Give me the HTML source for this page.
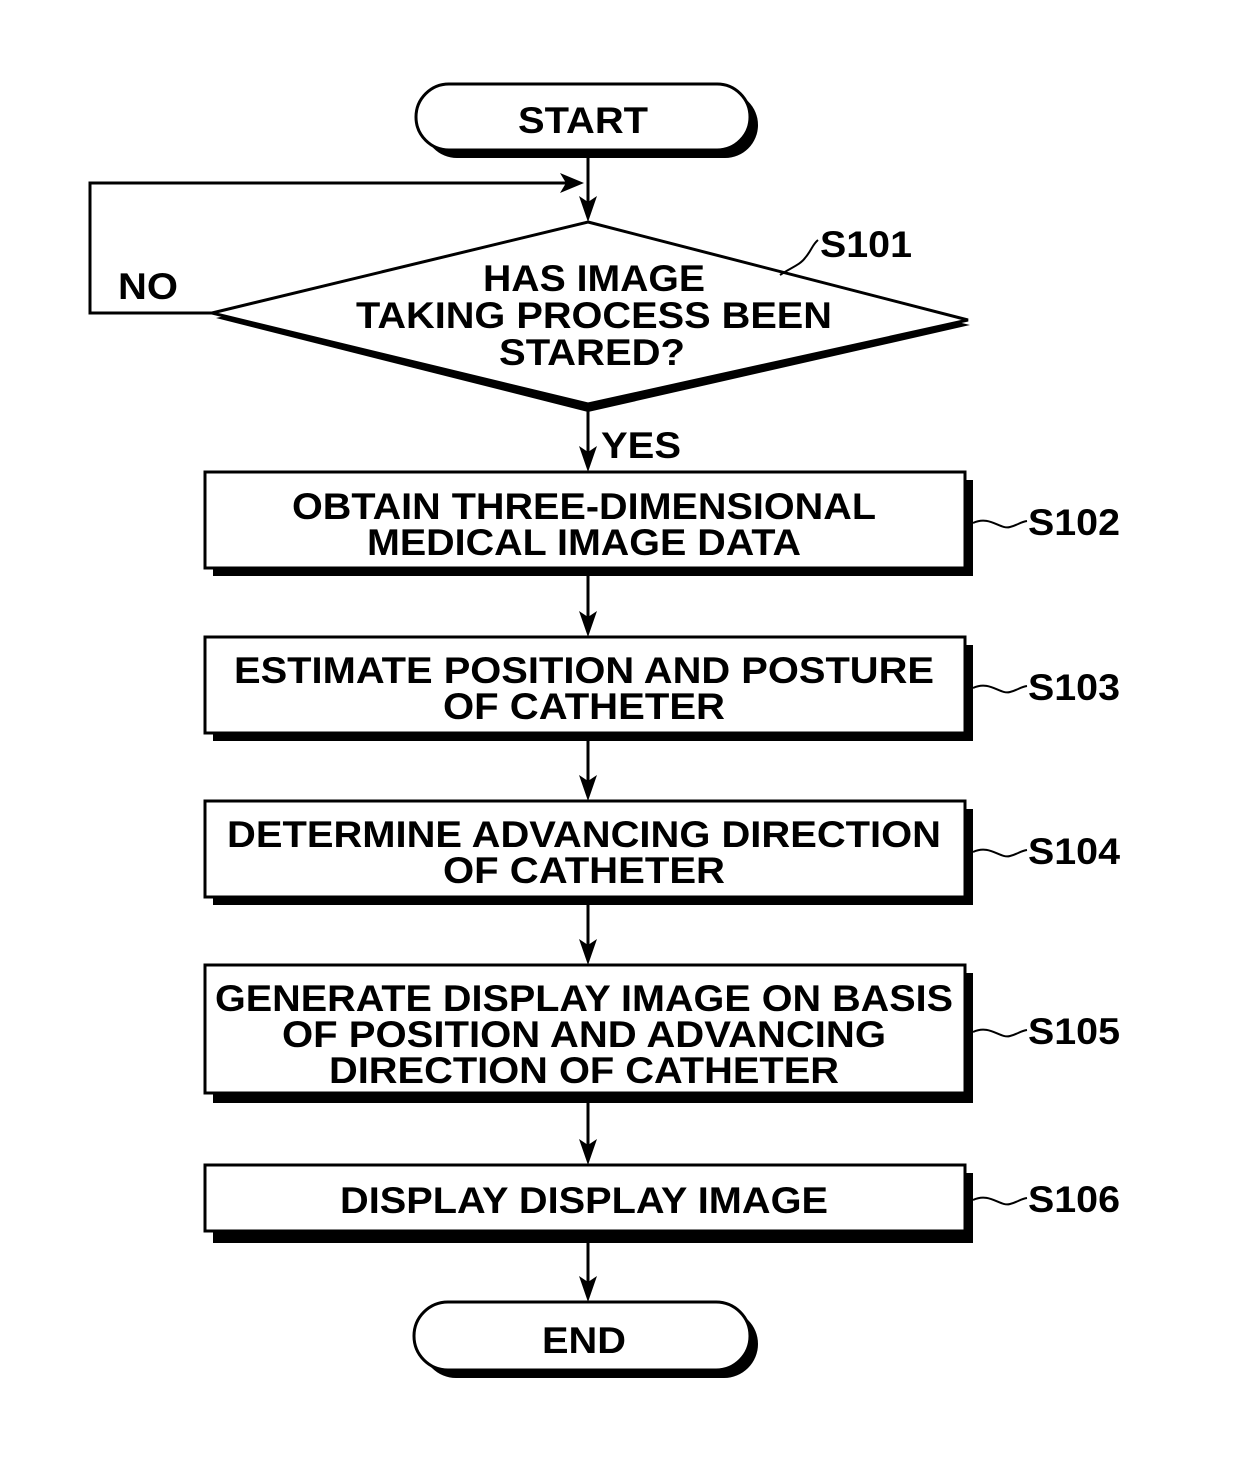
<!DOCTYPE html>
<html><head><meta charset="utf-8"><style>
html,body{margin:0;padding:0;background:#fff}
svg{display:block}
text{font-family:"Liberation Sans",Arial,sans-serif;font-weight:bold;fill:#000}
</style></head><body>
<svg width="1240" height="1483" viewBox="0 0 1240 1483" xmlns="http://www.w3.org/2000/svg">
<g stroke="#000" fill="none">
<!-- start -->
<rect x="424" y="92" width="334" height="66" rx="33" fill="#000" stroke="none"/>
<rect x="416" y="84" width="334" height="66" rx="33" fill="#fff" stroke-width="3"/>
<!-- arrows -->
<line x1="588" y1="158" x2="588" y2="215" stroke-width="3"/>
<polyline points="212,313 90,313 90,183 575,183" stroke-width="3"/>
<line x1="588" y1="408" x2="588" y2="465" stroke-width="3"/>
<line x1="588" y1="576" x2="588" y2="630" stroke-width="3"/>
<line x1="588" y1="741" x2="588" y2="794" stroke-width="3"/>
<line x1="588" y1="905" x2="588" y2="958" stroke-width="3"/>
<line x1="588" y1="1103" x2="588" y2="1158" stroke-width="3"/>
<line x1="588" y1="1243" x2="588" y2="1295" stroke-width="3"/>
<!-- diamond -->
<polygon points="588,232 970,325 588,412 216,318" fill="#000" stroke="none"/>
<polygon points="588,222 968,320 588,404 212,313" fill="#fff" stroke-width="3"/>
<!-- boxes -->
<rect x="213" y="480" width="760" height="96" fill="#000" stroke="none"/>
<rect x="205" y="472" width="760" height="96" fill="#fff" stroke-width="3"/>
<rect x="213" y="645" width="760" height="96" fill="#000" stroke="none"/>
<rect x="205" y="637" width="760" height="96" fill="#fff" stroke-width="3"/>
<rect x="213" y="809" width="760" height="96" fill="#000" stroke="none"/>
<rect x="205" y="801" width="760" height="96" fill="#fff" stroke-width="3"/>
<rect x="213" y="973" width="760" height="130" fill="#000" stroke="none"/>
<rect x="205" y="965" width="760" height="128" fill="#fff" stroke-width="3"/>
<rect x="213" y="1173" width="760" height="70" fill="#000" stroke="none"/>
<rect x="205" y="1165" width="760" height="66" fill="#fff" stroke-width="3"/>
<!-- end -->
<rect x="422" y="1310" width="336" height="68" rx="34" fill="#000" stroke="none"/>
<rect x="414" y="1302" width="336" height="68" rx="34" fill="#fff" stroke-width="3"/>
<!-- tildes -->
<path d="M780,275 C790,268 800,265 805,258 C812,250 812,245 818,240" stroke-width="2"/>
<path d="M973,523 C990,515 1000,530 1010,527 C1018,525 1020,522 1027,521" stroke-width="2"/>
<path d="M973,688 C990,680 1000,695 1010,692 C1018,690 1020,687 1027,686" stroke-width="2"/>
<path d="M973,852 C990,844 1000,859 1010,856 C1018,854 1020,851 1027,850" stroke-width="2"/>
<path d="M973,1032 C990,1024 1000,1039 1010,1036 C1018,1034 1020,1031 1027,1030" stroke-width="2"/>
<path d="M973,1200 C990,1192 1000,1207 1010,1204 C1018,1202 1020,1199 1027,1198" stroke-width="2"/>
</g>
<g fill="#000">
<path d="M560,173 L584,183 L560,193 L566,183 Z"/>
<path d="M579,196 L588,222 L597,196 L588,202 Z"/>
<path d="M579,446 L588,472 L597,446 L588,452 Z"/>
<path d="M579,611 L588,637 L597,611 L588,617 Z"/>
<path d="M579,775 L588,801 L597,775 L588,781 Z"/>
<path d="M579,939 L588,965 L597,939 L588,945 Z"/>
<path d="M579,1139 L588,1165 L597,1139 L588,1145 Z"/>
<path d="M579,1276 L588,1302 L597,1276 L588,1282 Z"/>
</g>
<g font-size="37" text-anchor="middle">
<text x="583" y="133" textLength="130" lengthAdjust="spacingAndGlyphs">START</text>
<text x="148" y="299" textLength="60" lengthAdjust="spacingAndGlyphs">NO</text>
<text x="594" y="291" textLength="222" lengthAdjust="spacingAndGlyphs">HAS IMAGE</text>
<text x="594" y="328" textLength="476" lengthAdjust="spacingAndGlyphs">TAKING PROCESS BEEN</text>
<text x="592" y="365" textLength="186" lengthAdjust="spacingAndGlyphs">STARED?</text>
<text x="641" y="458" textLength="80" lengthAdjust="spacingAndGlyphs">YES</text>
<text x="584" y="519" textLength="584" lengthAdjust="spacingAndGlyphs">OBTAIN THREE-DIMENSIONAL</text>
<text x="584" y="555" textLength="434" lengthAdjust="spacingAndGlyphs">MEDICAL IMAGE DATA</text>
<text x="584" y="683" textLength="700" lengthAdjust="spacingAndGlyphs">ESTIMATE POSITION AND POSTURE</text>
<text x="584" y="719" textLength="282" lengthAdjust="spacingAndGlyphs">OF CATHETER</text>
<text x="584" y="847" textLength="714" lengthAdjust="spacingAndGlyphs">DETERMINE ADVANCING DIRECTION</text>
<text x="584" y="883" textLength="282" lengthAdjust="spacingAndGlyphs">OF CATHETER</text>
<text x="584" y="1011" textLength="738" lengthAdjust="spacingAndGlyphs">GENERATE DISPLAY IMAGE ON BASIS</text>
<text x="584" y="1047" textLength="604" lengthAdjust="spacingAndGlyphs">OF POSITION AND ADVANCING</text>
<text x="584" y="1083" textLength="510" lengthAdjust="spacingAndGlyphs">DIRECTION OF CATHETER</text>
<text x="584" y="1213" textLength="488" lengthAdjust="spacingAndGlyphs">DISPLAY DISPLAY IMAGE</text>
<text x="584" y="1353" textLength="84" lengthAdjust="spacingAndGlyphs">END</text>
</g>
<g font-size="37">
<text x="820" y="257" textLength="92" lengthAdjust="spacingAndGlyphs">S101</text>
<text x="1028" y="535" textLength="92" lengthAdjust="spacingAndGlyphs">S102</text>
<text x="1028" y="700" textLength="92" lengthAdjust="spacingAndGlyphs">S103</text>
<text x="1028" y="864" textLength="92" lengthAdjust="spacingAndGlyphs">S104</text>
<text x="1028" y="1044" textLength="92" lengthAdjust="spacingAndGlyphs">S105</text>
<text x="1028" y="1212" textLength="92" lengthAdjust="spacingAndGlyphs">S106</text>
</g>
</svg>
</body></html>
